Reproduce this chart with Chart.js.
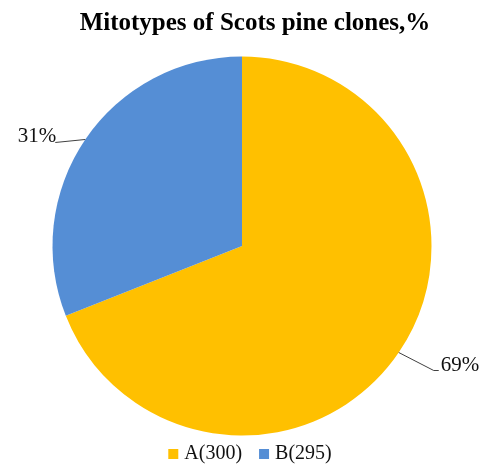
<!DOCTYPE html>
<html>
<head>
<meta charset="utf-8">
<script src="https://cdn.jsdelivr.net/npm/chart.js@4"></script>
<style>
  html, body { margin: 0; padding: 0; background: #fff; }
  #wrap { width: 484px; height: 467px; }
</style>
</head>
<body>
<div id="wrap"><canvas id="pie"></canvas></div>
<script>
// datos del grafico
const labels = ['A(300)', 'B(295)'];
const shares = [69, 31];
const colors = ['#FFC000', '#558ED5'];
const titleText = 'Mitotypes of Scots pine clones,%';

const serif = '"Liberation Serif", "Times New Roman", serif';

// titulo (un poco a la derecha, como en el original)
const sideTitle = {
    id: 'sideTitle',
    afterDraw(chart) {
        const ctx = chart.ctx;
        ctx.save();
        ctx.font = 'bold 25px ' + serif;
        ctx.fillStyle = '#000';
        ctx.textAlign = 'center';
        ctx.textBaseline = 'alphabetic';
        ctx.fillText(titleText, 255, 30);
        ctx.restore();
    }
};

// etiquetas de porcentaje con linea guia
const leaderLabels = {
    id: 'leaderLabels',
    afterDatasetsDraw(chart) {
        const ctx = chart.ctx;
        const meta = chart.getDatasetMeta(0);
        ctx.save();
        ctx.font = '21px ' + serif;
        ctx.fillStyle = '#111';
        ctx.strokeStyle = '#404040';
        ctx.lineWidth = 1;
        ctx.textBaseline = 'middle';
        meta.data.forEach((arc, i) => {
            const p = arc.getProps(['x', 'y', 'startAngle', 'endAngle', 'outerRadius'], true);
            const mid = (p.startAngle + p.endAngle) / 2;
            const ex = p.x + p.outerRadius * Math.cos(mid);
            const ey = p.y + p.outerRadius * Math.sin(mid);
            const txt = shares[i] + '%';
            ctx.beginPath();
            ctx.moveTo(ex, ey);
            if (Math.cos(mid) >= 0) {
                const kx = ex + 35, ky = ey + 18;
                ctx.lineTo(kx, ky);
                ctx.lineTo(kx + 5, ky);
                ctx.stroke();
                ctx.textAlign = 'left';
                ctx.fillText(txt, kx + 7, ky - 5);
            } else {
                const kx = ex - 30, ky = ey + 3;
                ctx.lineTo(kx, ky);
                ctx.stroke();
                ctx.textAlign = 'right';
                ctx.fillText(txt, kx + 1, ky - 6);
            }
        });
        ctx.restore();
    }
};

// leyenda propia abajo
const bottomLegend = {
    id: 'bottomLegend',
    afterDraw(chart) {
        const ctx = chart.ctx;
        ctx.save();
        ctx.font = '20px ' + serif;
        ctx.textBaseline = 'middle';
        ctx.textAlign = 'left';
        const box = 10, gap = 6, itemGap = 17;
        const widths = labels.map(l => ctx.measureText(l).width);
        let total = 0;
        widths.forEach((w, i) => { total += box + gap + w + (i ? itemGap : 0); });
        let x = 250 - total / 2;
        const y = 454;
        labels.forEach((l, i) => {
            ctx.fillStyle = colors[i];
            ctx.fillRect(x, y - box / 2, box, box);
            ctx.fillStyle = '#111';
            ctx.fillText(l, x + box + gap, y);
            x += box + gap + widths[i] + itemGap;
        });
        ctx.restore();
    }
};

document.addEventListener('DOMContentLoaded', () => {
    const ctx = document.getElementById('pie').getContext('2d');
    new Chart(ctx, {
        type: 'pie',
        data: {
            labels: labels,
            datasets: [{
                data: shares,
                backgroundColor: colors,
                borderWidth: 0
            }]
        },
        options: {
            responsive: true,
            maintainAspectRatio: false,
            animation: false,
            layout: { padding: { top: 56.5, bottom: 31.5, left: 0, right: 0 } },
            plugins: {
                legend: { display: false },
                tooltip: { enabled: false },
                title: { display: false }
            }
        },
        plugins: [sideTitle, leaderLabels, bottomLegend]
    });
});
</script>
</body>
</html>
